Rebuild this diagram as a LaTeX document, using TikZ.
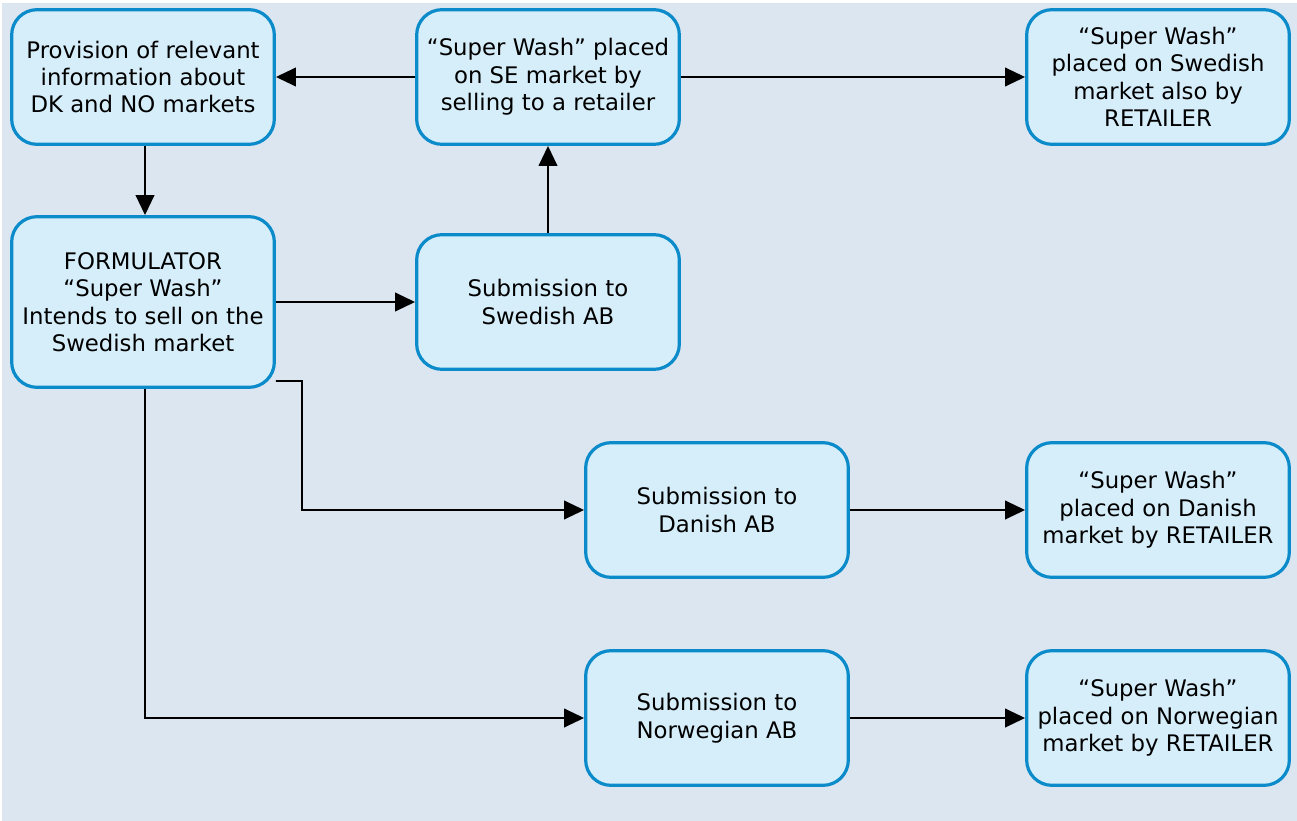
\documentclass[tikz,border=0pt]{standalone}
\usepackage{fontspec}
\setmainfont{DejaVu Sans}
\usetikzlibrary{arrows.meta}

\definecolor{bgblue}{RGB}{220,230,241}
\definecolor{boxfill}{RGB}{214,238,250}
\definecolor{boxline}{RGB}{11,139,202}

\tikzset{every picture/.style={line width=0.75pt}}
\tikzset{
  stepbox/.style={draw=boxline, fill=boxfill, line width=2.4pt, rounded corners=19pt,
    minimum width=197pt, minimum height=101pt, align=center, inner sep=2pt,
    font=\fontsize{17.1pt}{20.6pt}\selectfont},
  link/.style={line width=1.4pt, -{Triangle[length=15pt,width=14pt]}}
}

\begin{document}
\begin{tikzpicture}[x=0.75pt,y=0.75pt,yscale=-1,xscale=1]
\useasboundingbox (0,0) rectangle (1297,821);
%background
\fill[bgblue] (2,3) rectangle (1297,821);

% top row
\node[stepbox] (info) at (143,77) {Provision of relevant\\information about\\DK and NO markets};
\node[stepbox] (seplaced) at (548,77) {“Super Wash” placed\\on SE market by\\selling to a retailer};
\node[stepbox] (seretail) at (1158,77) {“Super Wash”\\placed on Swedish\\market also by\\RETAILER};
% formulator and Swedish AB
\node[stepbox, minimum height=128pt] (formulator) at (143,302) {FORMULATOR\\“Super Wash”\\Intends to sell on the\\Swedish market};
\node[stepbox] (seab) at (548,302) {Submission to\\Swedish AB};
% Danish row
\node[stepbox] (dkab) at (717,510) {Submission to\\Danish AB};
\node[stepbox] (dkretail) at (1158,510) {“Super Wash”\\placed on Danish\\market by RETAILER};
% Norwegian row
\node[stepbox] (noab) at (717,718) {Submission to\\Norwegian AB};
\node[stepbox] (noretail) at (1158,718) {“Super Wash”\\placed on Norwegian\\market by RETAILER};

% connections
\draw[link] (seplaced) -- (info);
\draw[link] (seplaced) -- (seretail);
\draw[link] (info.south) ++(2,0) -- (formulator.north -| 145,0);
\draw[link] (seab) -- (seplaced);
\draw[link] (formulator) -- (seab);
\draw[link] (formulator.south east) ++(0,-8) -| ++(26,129) -- (dkab.west);
\draw[link] (formulator.south -| 145,0) |- (noab.west);
\draw[link] (dkab) -- (dkretail);
\draw[link] (noab) -- (noretail);

\end{tikzpicture}
\end{document}
